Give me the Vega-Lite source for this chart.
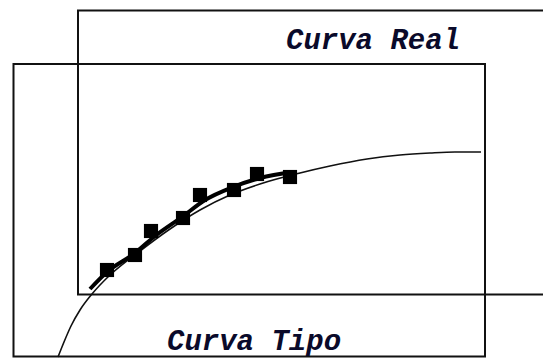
{
  "$schema": "https://vega.github.io/schema/vega-lite/v6.json",
  "width": 543,
  "height": 359,
  "padding": 0,
  "autosize": {"type": "fit", "contains": "padding"},
  "background": "white",
  "config": {"view": {"stroke": null}},
  "datasets": {
    "boxes": [
      {"name": "Curva Real", "x1": 78, "x2": 570, "y1": 10.5, "y2": 294.5},
      {"name": "Curva Tipo", "x1": 13.5, "x2": 485, "y1": 64, "y2": 356.5}
    ],
    "tipo": [
      {"x": 58, "y": 357}, {"x": 64, "y": 342}, {"x": 71, "y": 326}, {"x": 80, "y": 310},
      {"x": 92, "y": 294}, {"x": 110, "y": 275}, {"x": 140, "y": 251}, {"x": 170, "y": 229},
      {"x": 200, "y": 210}, {"x": 230, "y": 195}, {"x": 260, "y": 184}, {"x": 300, "y": 173},
      {"x": 330, "y": 166}, {"x": 367, "y": 159}, {"x": 400, "y": 155}, {"x": 430, "y": 153},
      {"x": 455, "y": 152}, {"x": 481, "y": 152}
    ],
    "real": [
      {"x": 90, "y": 289}, {"x": 107, "y": 272}, {"x": 135, "y": 253}, {"x": 155, "y": 236},
      {"x": 182, "y": 217}, {"x": 205, "y": 200}, {"x": 233, "y": 187}, {"x": 260, "y": 178},
      {"x": 293, "y": 172}
    ],
    "pts": [
      {"x": 107, "y": 270}, {"x": 135, "y": 255}, {"x": 151, "y": 231}, {"x": 183, "y": 218},
      {"x": 200, "y": 195}, {"x": 234, "y": 190}, {"x": 257, "y": 174}, {"x": 290, "y": 177}
    ],
    "labels": [
      {"text": "Curva Real", "x": 286, "y": 49},
      {"text": "Curva Tipo", "x": 167, "y": 350}
    ]
  },
  "layer": [
    {
      "data": {"name": "boxes"},
      "mark": {"type": "rect", "fill": null, "fillOpacity": 0, "stroke": "#111", "strokeWidth": 2, "clip": true},
      "encoding": {
        "x": {"field": "x1", "type": "quantitative", "scale": {"domain": [0, 543], "nice": false, "zero": false}, "axis": null},
        "x2": {"field": "x2"},
        "y": {"field": "y1", "type": "quantitative", "scale": {"domain": [0, 359], "nice": false, "zero": false, "reverse": true}, "axis": null},
        "y2": {"field": "y2"}
      }
    },
    {
      "data": {"name": "tipo"},
      "mark": {"type": "line", "interpolate": "monotone", "stroke": "#111", "strokeWidth": 1.6, "clip": true},
      "encoding": {
        "x": {"field": "x", "type": "quantitative"},
        "y": {"field": "y", "type": "quantitative"}
      }
    },
    {
      "data": {"name": "real"},
      "mark": {"type": "line", "interpolate": "monotone", "stroke": "black", "strokeWidth": 4},
      "encoding": {
        "x": {"field": "x", "type": "quantitative"},
        "y": {"field": "y", "type": "quantitative"}
      }
    },
    {
      "data": {"name": "pts"},
      "mark": {"type": "square", "filled": true, "color": "black", "opacity": 1, "size": 200},
      "encoding": {
        "x": {"field": "x", "type": "quantitative"},
        "y": {"field": "y", "type": "quantitative"}
      }
    },
    {
      "data": {"name": "labels"},
      "mark": {"type": "text", "align": "left", "baseline": "alphabetic", "font": "Liberation Mono", "fontStyle": "italic", "fontWeight": "bold", "fontSize": 29, "color": "#0a0a2a"},
      "encoding": {
        "x": {"field": "x", "type": "quantitative"},
        "y": {"field": "y", "type": "quantitative"},
        "text": {"field": "text"}
      }
    }
  ]
}
